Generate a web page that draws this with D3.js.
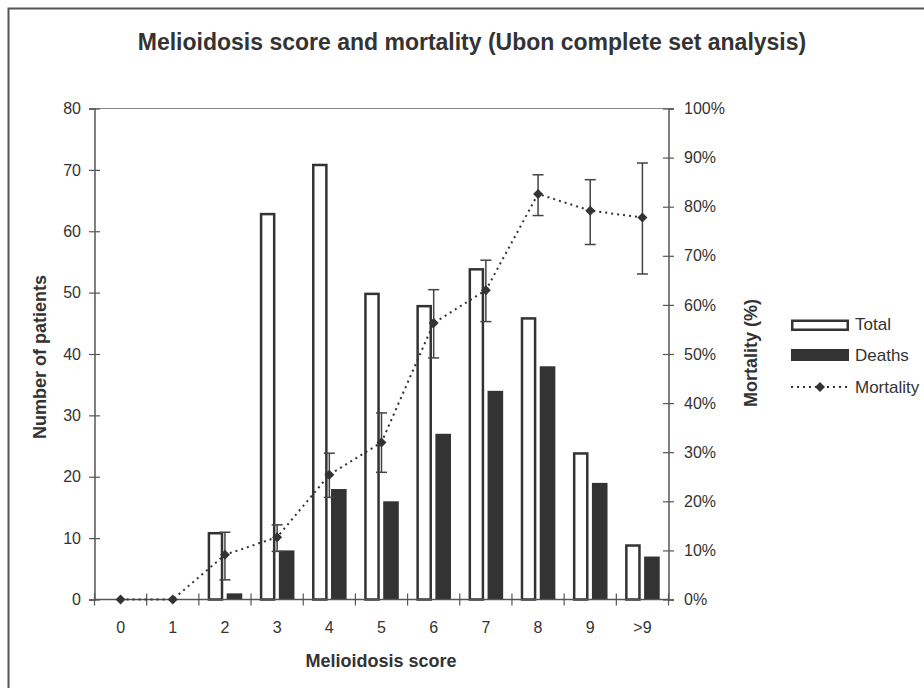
<!DOCTYPE html>
<html>
<head>
<meta charset="utf-8">
<script src="https://cdn.jsdelivr.net/npm/d3@7"></script>
<style>
  html, body { margin: 0; padding: 0; background: #fff; }
  svg { display: block; font-family: "Liberation Sans", Arial, sans-serif; }
</style>
</head>
<body>
<svg id="chart" width="924" height="688"></svg>
<script>
// Melioidosis score categories and patient counts
const scores = ["0", "1", "2", "3", "4", "5", "6", "7", "8", "9", ">9"];
const totals = [0, 0, 11, 63, 71, 50, 48, 54, 46, 24, 9];
const deaths = [0, 0, 1, 8, 18, 16, 27, 34, 38, 19, 7];
// Mortality (%) with the lower and upper ends of each error bar
const mortality = [0, 0, 9.1, 12.7, 25.4, 32.0, 56.3, 63.0, 82.6, 79.2, 77.8];
const mortLow  = [null, null, 4.0, 9.8, 20.8, 25.9, 49.2, 56.6, 78.2, 72.3, 66.3];
const mortHigh = [null, null, 13.7, 15.2, 29.8, 38.0, 63.1, 69.1, 86.5, 85.5, 88.9];
const countTicks = [0, 10, 20, 30, 40, 50, 60, 70, 80];
const pctTicks = [0, 10, 20, 30, 40, 50, 60, 70, 80, 90, 100];

const ink = "#333";
const axisCol = "#555";
const svg = d3.select("#chart");

// Outer chart frame
svg.append("rect")
  .attr("x", 8.5).attr("y", 8.5).attr("width", 1000).attr("height", 1000)
  .attr("fill", "none").attr("stroke", "#555").attr("stroke-width", 2);

const plotL = 94.5, plotR = 668.5, plotT = 108.5, plotB = 599.5;

const x = d3.scaleBand().domain(scores).range([plotL, plotR]).padding(0);
const yCount = d3.scaleLinear().domain([0, 80]).range([plotB, plotT]);
const yPct = d3.scaleLinear().domain([0, 100]).range([plotB, plotT]);

// Plot area top border
svg.append("line")
  .attr("x1", plotL).attr("x2", plotR).attr("y1", plotT).attr("y2", plotT)
  .attr("stroke", "#888").attr("stroke-width", 1.2);

const barW = 15.6, gap = 3.4;
const center = s => x(s) + x.bandwidth() / 2;

// Total bars (outlined)
svg.append("g").selectAll("rect")
  .data(scores.map((s, i) => ({ s, v: totals[i] })).filter(d => d.v > 0))
  .join("rect")
  .attr("x", d => center(d.s) - gap / 2 - barW + 1.25)
  .attr("width", barW - 2.5)
  .attr("y", d => yCount(d.v) + 1.25)
  .attr("height", d => yCount(0) - yCount(d.v) - 1.25)
  .attr("fill", "#fff").attr("stroke", ink).attr("stroke-width", 2.5);

// Death bars (filled)
svg.append("g").selectAll("rect")
  .data(scores.map((s, i) => ({ s, v: deaths[i] })).filter(d => d.v > 0))
  .join("rect")
  .attr("x", d => center(d.s) + gap / 2)
  .attr("width", barW)
  .attr("y", d => yCount(d.v))
  .attr("height", d => yCount(0) - yCount(d.v))
  .attr("fill", ink);

// Left axis
const gL = svg.append("g").attr("transform", `translate(${plotL},0)`)
  .call(d3.axisLeft(yCount).tickValues(countTicks).tickSize(5.5).tickPadding(8));
gL.selectAll(".tick line").clone().attr("x2", 5.5);

// Right axis
const gR = svg.append("g").attr("transform", `translate(${plotR},0)`)
  .call(d3.axisRight(yPct).tickValues(pctTicks).tickSize(5.5).tickPadding(10)
    .tickFormat(d => d + "%"));
gR.selectAll(".tick line").clone().attr("x2", -5.5);

// Bottom axis with ticks between categories
const gB = svg.append("g").attr("transform", `translate(0,${plotB})`)
  .call(d3.axisBottom(x).tickSize(0).tickPadding(22));
const boundaries = scores.map(s => x(s)).concat([plotR]);
gB.selectAll(".sep").data(boundaries).join("line")
  .attr("class", "sep")
  .attr("x1", d => d).attr("x2", d => d).attr("y1", -6).attr("y2", 6)
  .attr("stroke", axisCol).attr("stroke-width", 1.2);

[gL, gR, gB].forEach(g => {
  g.select(".domain").attr("stroke", axisCol).attr("stroke-width", 1.5);
  g.selectAll(".tick line").attr("stroke", axisCol).attr("stroke-width", 1.2);
  g.selectAll("text").attr("fill", ink).attr("font-size", 16)
    .attr("font-family", "'Liberation Sans', Arial, sans-serif");
});
gB.select(".domain").attr("d", `M${plotL},0H${plotR}`);

// Mortality error bars
const errData = scores.map((s, i) => ({ s, lo: mortLow[i], hi: mortHigh[i] })).filter(d => d.lo !== null);
const errG = svg.append("g").attr("stroke", "#444").attr("stroke-width", 1.5);
errData.forEach(d => {
  const cx = center(d.s);
  errG.append("line").attr("x1", cx).attr("x2", cx).attr("y1", yPct(d.lo)).attr("y2", yPct(d.hi));
  errG.append("line").attr("x1", cx - 5.5).attr("x2", cx + 5.5).attr("y1", yPct(d.lo)).attr("y2", yPct(d.lo));
  errG.append("line").attr("x1", cx - 5.5).attr("x2", cx + 5.5).attr("y1", yPct(d.hi)).attr("y2", yPct(d.hi));
});

// Mortality line (dotted) with diamond markers
const line = d3.line().x((d, i) => center(scores[i])).y(d => yPct(d));
svg.append("path").datum(mortality)
  .attr("d", line).attr("fill", "none")
  .attr("stroke", ink).attr("stroke-width", 2).attr("stroke-dasharray", "2,4");

const diamond = d3.symbol().type(d3.symbolSquare).size(50);
svg.append("g").selectAll("path")
  .data(mortality)
  .join("path")
  .attr("d", diamond)
  .attr("transform", (d, i) => `translate(${center(scores[i])},${yPct(d)}) rotate(45)`)
  .attr("fill", ink);

// Titles
svg.append("text")
  .attr("x", 472).attr("y", 50).attr("text-anchor", "middle")
  .attr("font-size", 23).attr("font-weight", "bold").attr("fill", ink)
  .text("Melioidosis score and mortality (Ubon complete set analysis)");

svg.append("text")
  .attr("x", 381).attr("y", 667).attr("text-anchor", "middle")
  .attr("font-size", 18).attr("font-weight", "bold").attr("fill", ink)
  .text("Melioidosis score");

svg.append("text")
  .attr("transform", "translate(46,357) rotate(-90)").attr("text-anchor", "middle")
  .attr("font-size", 18).attr("font-weight", "bold").attr("fill", ink)
  .text("Number of patients");

svg.append("text")
  .attr("transform", "translate(757,353) rotate(-90)").attr("text-anchor", "middle")
  .attr("font-size", 18).attr("font-weight", "bold").attr("fill", ink)
  .text("Mortality (%)");

// Legend
const lg = svg.append("g");
const lx = 791, lw = 58;
const legendItems = ["Total", "Deaths", "Mortality"];
const ly = [324.5, 355, 387];
lg.append("rect").attr("x", lx + 1.25).attr("y", 319.5 + 1.25).attr("width", lw - 2.5).attr("height", 9)
  .attr("fill", "#fff").attr("stroke", ink).attr("stroke-width", 2.5);
lg.append("rect").attr("x", lx).attr("y", 349).attr("width", lw).attr("height", 12).attr("fill", ink);
lg.append("line").attr("x1", lx).attr("x2", lx + lw).attr("y1", ly[2]).attr("y2", ly[2])
  .attr("stroke", ink).attr("stroke-width", 2).attr("stroke-dasharray", "2,4");
lg.append("path").attr("d", diamond)
  .attr("transform", `translate(${lx + lw / 2},${ly[2]}) rotate(45)`).attr("fill", ink);
lg.selectAll("text").data(legendItems).join("text")
  .attr("x", 855).attr("y", (d, i) => ly[i]).attr("dy", "0.35em")
  .attr("font-size", 17).attr("fill", ink)
  .text(d => d);
</script>
</body>
</html>
